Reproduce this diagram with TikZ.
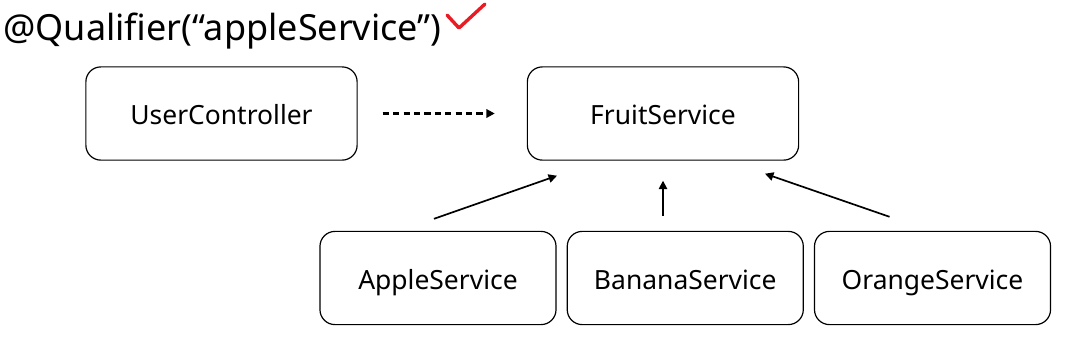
\documentclass[tikz,border=0pt]{standalone}
\usepackage{fontspec}
\setmainfont{Noto Sans}
\usetikzlibrary{positioning, arrows.meta, calc}
\definecolor{checkred}{RGB}{232,28,36}

\begin{document}
\begin{tikzpicture}[
    x=0.025cm, y=-0.025cm,
    >={Triangle[length=6pt,width=6pt]},
    box/.style={draw, rounded corners=0.375cm, line width=0.85pt,
      font=\fontsize{18.8}{22}\selectfont, minimum height=2.33cm,
      text height=16pt, text depth=0pt},
    wbox/.style={box, minimum width=6.78cm},
    sbox/.style={box, minimum width=5.9cm},
    arr/.style={->, line width=1.2pt},
    darr/.style={->, dash pattern=on 4.4pt off 3pt, line width=1.5pt}
  ]
\useasboundingbox (0,0) rectangle (1065,336);

% =================== title + check mark ===================
\node[anchor=base west, inner sep=0pt, font=\fontsize{25.6}{30}\selectfont]
  (title) at (3,40) {@Qualifier(“appleService”)};
\draw[checkred, line width=2.4pt, line cap=round, line join=round]
  (447,15) -- (459,28) -- (485,4);

% =================== top row ===================
\node[wbox] (user) at (221.5,113.5) {UserController};
\node[wbox] (fruit) at (663,113.5) {FruitService};

% =================== bottom row ===================
\node[sbox] (apple) at (438,278) {AppleService};
\node[sbox, right=0.25cm of apple] (banana) {BananaService};
\node[sbox, right=0.25cm of banana] (orange) {OrangeService};

% arrow ends (arrows stop short of the boxes)
\coordinate (dfrom) at ($(user.east)+(25,0)$);
\coordinate (dto) at ($(fruit.west)+(-32,0)$);
\coordinate (afrom) at ($(apple.north)+(-4,-12)$);
\coordinate (ato) at ($(fruit.south)+(-106,15)$);
\coordinate (bfrom) at ($(fruit.south)+(0,55)$);
\coordinate (bto) at ($(fruit.south)+(0,20)$);
\coordinate (ofrom) at ($(orange.north)+(-43,-14)$);
\coordinate (oto) at ($(fruit.south)+(102,13)$);

\draw[darr] (dfrom) -- (dto);
\draw[arr] (afrom) -- (ato);
\draw[arr] (bfrom) -- (bto);
\draw[arr] (ofrom) -- (oto);

\end{tikzpicture}
\end{document}
